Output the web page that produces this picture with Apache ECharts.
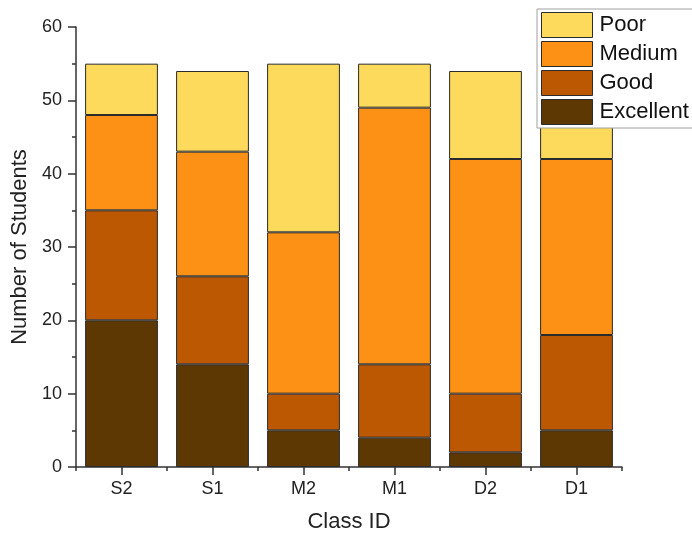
<!DOCTYPE html>
<html>
<head>
<meta charset="utf-8">
<script src="https://cdn.jsdelivr.net/npm/echarts@6/dist/echarts.min.js"></script>
<style>
  html, body { margin: 0; padding: 0; background: #fff; }
  #chart { width: 692px; height: 535px; }
</style>
</head>
<body>
<div id="chart"></div>
<script>
// classes along the x axis
const classes = ["S2", "S1", "M2", "M1", "D2", "D1"];
// students per grade, stacked from the bottom
const excellent = [20, 14, 5, 4, 2, 5];
const good = [15, 12, 5, 10, 8, 13];
const medium = [13, 17, 22, 35, 32, 24];
const poor = [7, 11, 23, 6, 12, 13];

const colors = {
  Excellent: "#5e3802",
  Good: "#bd5802",
  Medium: "#fd9115",
  Poor: "#fdda5b"
};
const font = "Liberation Sans, Arial, sans-serif";

function barSeries(name, data) {
  return {
    name: name,
    type: "bar",
    stack: "total",
    data: data,
    barWidth: "80%",
    itemStyle: { color: colors[name], borderColor: "#2b2b2b", borderWidth: 1 }
  };
}

const chart = echarts.init(document.getElementById("chart"));
chart.setOption({
  animation: false,
  textStyle: { fontFamily: font },
  grid: { left: 76, right: 70, top: 27, bottom: 68, outerBoundsMode: "none", containLabel: false },
  legend: {
    data: ["Poor", "Medium", "Good", "Excellent"],
    orient: "vertical",
    left: 537,
    top: 9,
    padding: [3, 10, 3, 4],
    icon: "rect",
    itemWidth: 51,
    itemHeight: 25,
    itemGap: 3,
    backgroundColor: "#fff",
    borderColor: "#a0a0a0",
    borderWidth: 1,
    borderRadius: 0,
    textStyle: { fontSize: 22, lineHeight: 25, color: "#111", fontFamily: font, padding: [0, 0, 0, 2] },
    itemStyle: { borderColor: "#2b2b2b", borderWidth: 1 },
    selectedMode: false
  },
  xAxis: [{
    type: "category",
    data: classes,
    name: "Class ID",
    nameLocation: "middle",
    nameGap: 44,
    nameTextStyle: { fontSize: 22, color: "#222" },
    axisLine: { lineStyle: { color: "#333", width: 1.5 } },
    axisTick: { show: true, length: 4, lineStyle: { color: "#333", width: 1.5 } },
    axisLabel: { fontSize: 18, color: "#222", margin: 13 }
  }, {
    type: "category",
    data: classes,
    position: "bottom",
    axisLine: { show: false },
    axisTick: { show: true, alignWithLabel: true, length: 8, lineStyle: { color: "#333", width: 1.5 } },
    axisLabel: { show: false }
  }],
  yAxis: {
    type: "value",
    min: 0,
    max: 60,
    interval: 10,
    name: "Number of Students",
    nameLocation: "middle",
    nameGap: 43,
    nameTextStyle: { fontSize: 22, color: "#222" },
    axisLine: { show: true, lineStyle: { color: "#333", width: 1.5 } },
    axisTick: { show: true, length: 8, lineStyle: { color: "#333", width: 1.5 } },
    minorTick: { show: true, splitNumber: 2, length: 4, lineStyle: { color: "#333", width: 1.5 } },
    splitLine: { show: false },
    axisLabel: { fontSize: 18, color: "#222", margin: 14 }
  },
  series: [
    barSeries("Excellent", excellent),
    barSeries("Good", good),
    barSeries("Medium", medium),
    barSeries("Poor", poor)
  ]
});
</script>
</body>
</html>
